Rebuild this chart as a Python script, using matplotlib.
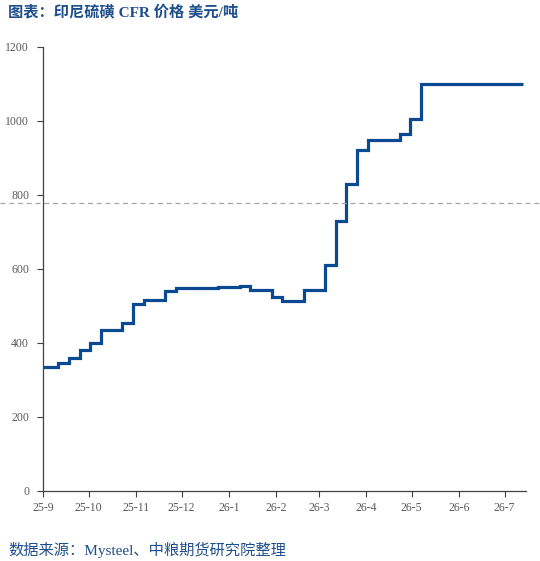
import matplotlib.pyplot as plt
import matplotlib.dates as mdates
import pandas as pd

# 价格变动日期及对应价格（美元/吨），阶梯式
change_dates = ['2025-09-01', '2025-09-11', '2025-09-18', '2025-09-25', '2025-10-02',
                '2025-10-09', '2025-10-23', '2025-10-30', '2025-11-06', '2025-11-20',
                '2025-11-27', '2025-12-25', '2026-01-08', '2026-01-15', '2026-01-29',
                '2026-02-05', '2026-02-19', '2026-03-05', '2026-03-12', '2026-03-19',
                '2026-03-26', '2026-04-02', '2026-04-23', '2026-04-30', '2026-05-07',
                '2026-07-13']
prices = [335, 345, 360, 380, 400,
          436, 454, 505, 515, 540,
          548, 550, 553, 542, 523,
          512, 544, 610, 730, 830,
          920, 947, 965, 1005, 1100,
          1100]
ref_level = 777

month_ticks = pd.date_range('2025-09-01', '2026-07-01', freq='MS')
month_labels = ['25-9', '25-10', '25-11', '25-12', '26-1', '26-2',
                '26-3', '26-4', '26-5', '26-6', '26-7']

blue = '#0B4A92'
text_blue = '#1F4E8C'
gray = '#595959'
serif_cjk = ['Liberation Serif', 'Noto Sans CJK SC']

fig = plt.figure(figsize=(5.4, 5.61), dpi=100)
ax = fig.add_axes([0.0796, 0.1248, 0.8944, 0.792])

x = pd.to_datetime(change_dates)
ax.plot(x, prices, drawstyle='steps-post', color=blue, linewidth=2.3,
        solid_capstyle='butt', solid_joinstyle='miter')

ax.axhline(ref_level, xmin=-0.09, xmax=1.03, clip_on=False,
           color='#A6A6A6', linewidth=0.9, linestyle=(0, (4, 3)))

ax.set_ylim(0, 1200)
ax.set_yticks([0, 200, 400, 600, 800, 1000, 1200])
ax.set_xlim(pd.Timestamp('2025-09-01'), pd.Timestamp('2026-07-15'))
ax.set_xticks(month_ticks)
ax.set_xticklabels(month_labels)

for s in ['top', 'right']:
    ax.spines[s].set_visible(False)
for s in ['left', 'bottom']:
    ax.spines[s].set_color('#404040')
    ax.spines[s].set_linewidth(0.9)

ax.tick_params(direction='out', length=4, width=0.8, color='#404040',
               labelcolor=gray, labelsize=8.5)
for lab in ax.get_xticklabels() + ax.get_yticklabels():
    lab.set_family('Liberation Serif')
ax.tick_params(axis='x', pad=4)
ax.tick_params(axis='y', pad=6)

fig.text(0.015, 0.978, '图表：印尼硫磺 CFR 价格 美元/吨', family=serif_cjk,
         fontsize=11, fontweight='bold', color=text_blue, va='center', ha='left')
fig.text(0.015, 0.02, '数据来源：Mysteel、中粮期货研究院整理', family=serif_cjk,
         fontsize=11, color=text_blue, va='center', ha='left')

plt.savefig('out.png', dpi=100)
